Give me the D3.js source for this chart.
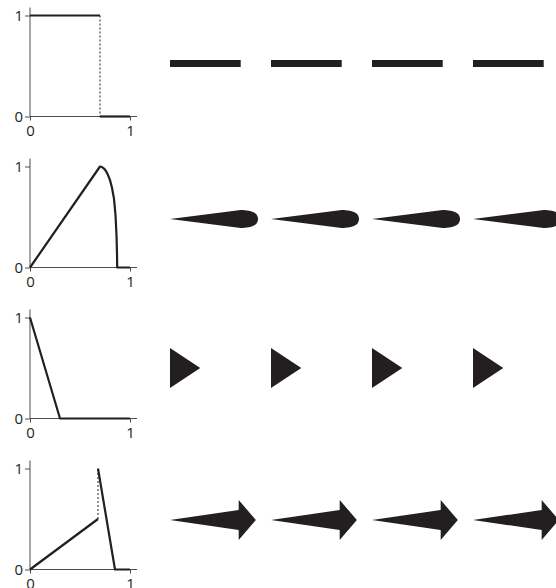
<!DOCTYPE html>
<html>
<head>
<meta charset="utf-8">
<script src="https://cdn.jsdelivr.net/npm/d3@7"></script>
<style>
  html, body { margin: 0; padding: 0; background: #fff; }
  svg { display: block; }
  text { font-family: "Open Sans", "Liberation Sans", sans-serif; }
</style>
</head>
<body>
<svg id="chart" width="556" height="588"></svg>
<script>
// ---- Data: width profiles (t along stroke, relative width) ----
const profileDash = [[0, 1], [0.7, 1], [0.7, 0], [1, 0]];
const profileTeardrop = [[0, 0], [0.7, 1], [0.72, 0.995], [0.74, 0.98], [0.76, 0.955], [0.78, 0.915],
  [0.8, 0.865], [0.82, 0.79], [0.84, 0.68], [0.855, 0.52], [0.865, 0.32], [0.87, 0.14], [0.872, 0], [1, 0]];
const profileTriangle = [[0, 1], [0.3, 0], [1, 0]];
const profileArrow = [[0, 0], [0.68, 0.5], [0.68, 1], [0.85, 0], [1, 0]];

// dotted jump segments in the profile plots
const jumpDash = [[0.7, 1], [0.7, 0]];
const jumpArrow = [[0.68, 0.5], [0.68, 1]];

// max stroke widths (px) per row
const maxWidths = [7, 18, 40, 40];
const repeats = [0, 1, 2, 3];
const tickValues = [0, 1];
const tickLabels = ["0", "1"];

const rows = [
  { profile: profileDash, jump: jumpDash },
  { profile: profileTeardrop, jump: null },
  { profile: profileTriangle, jump: null },
  { profile: profileArrow, jump: jumpArrow }
];

// ---- Layout ----
const zeros = [116.5, 267.5, 418.5, 569.5];
const centers = [63.5, 219, 368, 520];
const plotLeft = 30, plotRight = 130, plotH = 101;
const strokeStart = 170, period = 101;
const ink = "#231f20";

const svg = d3.select("#chart");

rows.forEach((row, i) => {
  const g = svg.append("g");
  const x = d3.scaleLinear().domain([0, 1]).range([plotLeft, plotRight]);
  const y = d3.scaleLinear().domain([0, 1]).range([zeros[i], zeros[i] - plotH]);

  // axes
  const xAxis = d3.axisBottom(x).tickValues(tickValues).tickFormat((d, j) => tickLabels[j])
    .tickSizeInner(4).tickSizeOuter(0).tickPadding(3);
  const yAxis = d3.axisLeft(y).tickValues(tickValues).tickFormat((d, j) => tickLabels[j])
    .tickSizeInner(5).tickSizeOuter(0).tickPadding(2);

  const gx = g.append("g").attr("transform", `translate(0,${zeros[i]})`).call(xAxis);
  const gy = g.append("g").attr("transform", `translate(${plotLeft},0)`).call(yAxis);

  gx.select(".domain").attr("d", `M${plotLeft},0H${plotRight + 7}`);
  gy.select(".domain").attr("d", `M0,${zeros[i]}V${zeros[i] - plotH - 8}`);

  [gx, gy].forEach(a => {
    a.attr("color", "#4d4d4d");
    a.selectAll(".domain, .tick line").attr("stroke", "#4d4d4d").attr("stroke-width", 1);
    a.selectAll("text").attr("font-size", 15).attr("fill", ink)
      .style("font-family", "'Open Sans', 'Liberation Sans', sans-serif");
  });
  gx.selectAll(".tick text").attr("dy", "0.8em");

  // dotted jump
  if (row.jump) {
    g.append("path")
      .attr("d", d3.line().x(d => x(d[0])).y(d => y(d[1]))(row.jump))
      .attr("fill", "none").attr("stroke", ink).attr("stroke-width", 1)
      .attr("stroke-dasharray", "2,2");
  }

  // profile line: split at vertical jumps so they are not drawn solid
  const segs = [];
  let cur = [row.profile[0]];
  for (let k = 1; k < row.profile.length; k++) {
    const p = row.profile[k], q = row.profile[k - 1];
    if (p[0] === q[0]) { segs.push(cur); cur = [p]; }
    else cur.push(p);
  }
  segs.push(cur);
  const line = d3.line().x(d => x(d[0])).y(d => y(d[1]));
  segs.forEach(s => {
    g.append("path").attr("d", line(s))
      .attr("fill", "none").attr("stroke", ink).attr("stroke-width", 2.2)
      .attr("stroke-linejoin", "round");
  });

  // repeated strokes
  const w = d3.scaleLinear().domain([0, 1]).range([0, maxWidths[i] / 2]);
  repeats.forEach(k => {
    const xs = d3.scaleLinear().domain([0, 1])
      .range([strokeStart + k * period, strokeStart + (k + 1) * period]);
    const area = d3.area()
      .x(d => xs(d[0]))
      .y0(d => centers[i] - w(d[1]))
      .y1(d => centers[i] + w(d[1]));
    g.append("path").attr("d", area(row.profile)).attr("fill", ink);
  });
});
</script>
</body>
</html>
